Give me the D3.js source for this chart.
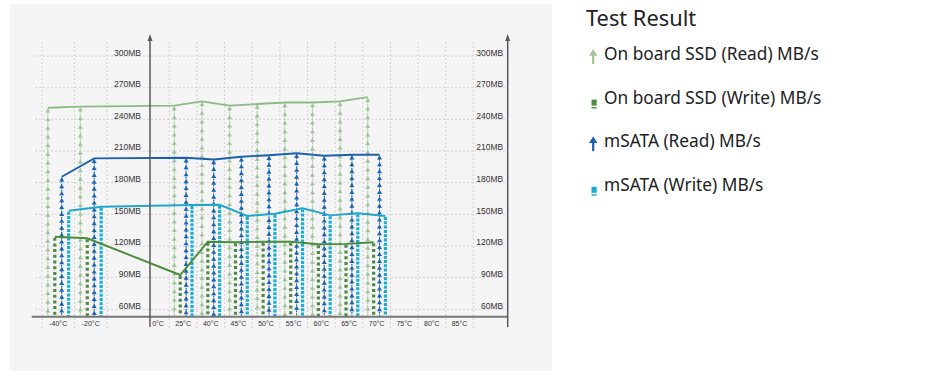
<!DOCTYPE html>
<html lang="en">
<head>
  <meta charset="UTF-8">
  <title>Test Result</title>
  <script src="https://d3js.org/d3.v7.min.js"></script>
  <style>
    body { margin: 0; background: #fff; }
    svg { display: block; }
    .tick-label { font-family: "Liberation Sans", Arial, sans-serif; fill: #333; }
    .legend text { font-family: "Noto Sans", "Open Sans", sans-serif; fill: #222; }
  </style>
</head>
<body>
<svg width="943" height="376"></svg>
<script>
  // data
  const categories = ["-40°C", "-20°C", "25°C", "40°C", "45°C", "50°C", "55°C", "60°C", "65°C", "70°C"];
  const leftTicks = ["-40°C", "-20°C"];
  const rightTicks = ["0°C", "25°C", "40°C", "45°C", "50°C", "55°C", "60°C", "65°C", "70°C", "75°C", "80°C", "85°C"];
  const yTicks = [60, 90, 120, 150, 180, 210, 240, 270, 300];

  const ssdRead    = [251, 252, 253, 257, 253, 254.5, 256, 256, 257, 261];
  const ssdWrite   = [128.8, 127.3, 92.5, 124, 123.5, 124, 124, 121.6, 122, 123.5];
  const msataRead  = [185.6, 203, 203.6, 202, 204.6, 206, 207.8, 205.5, 206.5, 206.5];
  const msataWrite = [153.4, 157.2, 158.8, 159, 148.4, 150.5, 155.7, 149, 151, 148.4];

  const series = [
    { name: "On board SSD (Read) MB/s",  values: ssdRead,    kind: "arrow",  color: "#a3c59e", line: "#8dbb86", step: 8.7 },
    { name: "On board SSD (Write) MB/s", values: ssdWrite,   kind: "square", color: "#4f8a45", line: "#4a8c3c", step: 5.7 },
    { name: "mSATA (Read) MB/s",         values: msataRead,  kind: "arrow",  color: "#1c62ad", line: "#1c5fae", step: 6.9 },
    { name: "mSATA (Write) MB/s",        values: msataWrite, kind: "square", color: "#1aaed2", line: "#22a6cc", step: 4.3 }
  ];

  const svg = d3.select("svg");

  // gray panel
  svg.append("rect").attr("x", 10).attr("y", 4).attr("width", 542).attr("height", 367).attr("fill", "#f5f5f5");

  const xLeft = d3.scaleBand().domain(leftTicks).range([42, 107]);
  const xRight = d3.scaleBand().domain(rightTicks).range([141.7, 473.3]);
  const band = c => leftTicks.includes(c) ? xLeft : xRight;
  const sub = d3.scalePoint().domain(series.map(s => s.name)).range([0.18, 0.82]);
  const xPos = (c, s) => band(c)(c) + sub(s.name) * band(c).bandwidth();

  const y = d3.scaleLinear().domain([60, 300]).range([309.3, 56]);
  const baseY = y(53);
  const axisLeftX = 150, axisRightX = 507.7;

  const grid = svg.append("g").attr("stroke", "#d2d2d2").attr("stroke-dasharray", "2,2").attr("stroke-width", 1);
  grid.selectAll("line.h").data(yTicks).join("line")
    .attr("x1", 35).attr("x2", axisRightX).attr("y1", d => y(d)).attr("y2", d => y(d));
  const vEdges = [xLeft.range()[0], ...leftTicks.map(c => xLeft(c) + xLeft.bandwidth()),
                  ...rightTicks.map(c => xRight(c) + xRight.bandwidth())];
  grid.selectAll("line.v").data(vEdges).join("line")
    .attr("x1", d => d).attr("x2", d => d).attr("y1", 42).attr("y2", 329);

  // columns of markers
  const cols = svg.append("g");
  series.forEach(s => {
    categories.forEach((c, i) => {
      const x = xPos(c, s), top = y(s.values[i]) + 1;
      if (s.kind === "square") {
        cols.append("line").attr("x1", x).attr("x2", x).attr("y1", top).attr("y2", baseY)
          .attr("stroke", s.color).attr("stroke-width", 3.2).attr("stroke-dasharray", s.step > 5 ? "3,2.7" : "3,1.3");
      } else {
        cols.append("line").attr("x1", x).attr("x2", x).attr("y1", top).attr("y2", baseY)
          .attr("stroke", s.color).attr("stroke-width", 1.1).attr("stroke-dasharray", "2,1");
        const marks = d3.range(top + 2, baseY - 2, s.step);
        cols.selectAll(null).data(marks).enter().append("path")
          .attr("d", d => `M${x},${d - 2.4}L${x + 2.5},${d + 1.7}L${x - 2.5},${d + 1.7}Z`)
          .attr("fill", s.color);
      }
    });
  });

  // lines through the tops
  series.forEach(s => {
    const line = d3.line().x((d, i) => xPos(categories[i], s)).y(d => y(d));
    svg.append("path").datum(s.values).attr("d", line)
      .attr("fill", "none").attr("stroke", s.line).attr("stroke-width", 1.9);
  });

  // axes
  const ax = svg.append("g").attr("stroke", "#5a5a5a").attr("stroke-width", 1.5);
  ax.append("line").attr("x1", 31.7).attr("x2", axisRightX).attr("y1", baseY).attr("y2", baseY).attr("stroke", "#777").attr("stroke-width", 2);
  [axisLeftX, axisRightX].forEach(x => {
    ax.append("line").attr("x1", x).attr("x2", x).attr("y1", 37).attr("y2", 327);
    svg.append("path").attr("d", `M${x},34L${x + 2.5},41L${x - 2.5},41Z`).attr("fill", "#5a5a5a");
  });

  svg.append("g").selectAll("text").data(yTicks).join("text").attr("class", "tick-label")
    .attr("x", axisLeftX - 9).attr("y", d => y(d) - 0.5).attr("text-anchor", "end")
    .attr("font-size", 8.5).text(d => d + "MB");
  svg.append("g").selectAll("text").data(yTicks).join("text").attr("class", "tick-label")
    .attr("x", axisRightX - 4.5).attr("y", d => y(d) - 0.5).attr("text-anchor", "end")
    .attr("font-size", 8.5).text(d => d + "MB");

  const xLabels = [...leftTicks.map(c => [c, xLeft(c) + xLeft.bandwidth() / 2]),
                   ...rightTicks.map(c => [c, xRight(c) + xRight.bandwidth() / 2 + (c === "0°C" ? 2.5 : 0)])];
  svg.append("g").selectAll("text").data(xLabels).join("text").attr("class", "tick-label")
    .attr("x", d => d[1]).attr("y", 326).attr("text-anchor", "middle")
    .attr("font-size", 7).attr("fill", "#444").text(d => d[0]);

  // legend
  const lg = svg.append("g").attr("class", "legend");
  lg.append("text").attr("x", 586).attr("y", 26).attr("font-size", 21.8).text("Test Result");
  const item = lg.selectAll("g.item").data(series).join("g").attr("class", "item")
    .attr("transform", (d, i) => `translate(0,${60 + i * 43.6})`);
  item.append("text").attr("x", 604).attr("y", 0).attr("font-size", 17.3).text(d => d.name);
  item.each(function (d) {
    const g = d3.select(this);
    if (d.kind === "arrow") {
      g.append("path").attr("d", "M593.2,-11L597.4,-4.2L589,-4.2Z").attr("fill", d.color);
      g.append("rect").attr("x", 592.1).attr("y", -4.6).attr("width", 2.2).attr("height", 8.6).attr("fill", d.color);
    } else {
      g.append("rect").attr("x", 591.5).attr("y", -4).attr("width", 5.2).attr("height", 6).attr("fill", d.color);
      g.append("rect").attr("x", 591.5).attr("y", 3.5).attr("width", 5.2).attr("height", 1.4).attr("fill", d.color);
    }
  });
</script>
</body>
</html>
